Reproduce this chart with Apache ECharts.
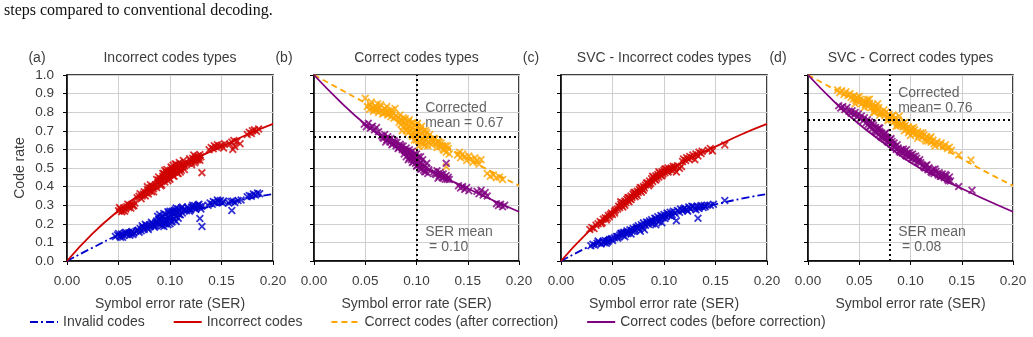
<!DOCTYPE html>
<html>
<head>
<meta charset="utf-8">
<title></title>
<script src="https://cdn.jsdelivr.net/npm/echarts@6/dist/echarts.min.js"></script>
<style>
    body{ margin:0; background:#fff; }
    #chart{ width:1033px; height:337px; }
</style>
</head>
<body>
<div id="chart"></div>
<script>
// fitted curves, sampled along SER
var fitSer = [0, 0.025, 0.05, 0.075, 0.1, 0.125, 0.15, 0.175, 0.2];
var fitIncorrect = [0, 0.148, 0.27, 0.375, 0.47, 0.55, 0.615, 0.68, 0.737];
var fitInvalid = [0, 0.072, 0.14, 0.195, 0.24, 0.275, 0.305, 0.335, 0.36];
var fitAfter = [1, 0.925, 0.85, 0.775, 0.70, 0.625, 0.55, 0.475, 0.405];
var fitBefore = [1, 0.86, 0.735, 0.63, 0.53, 0.455, 0.39, 0.325, 0.265];

// mean markers
var meanB = {ser: 0.102, rate: 0.672, serText: '0.10', rateText: '0.67'};
var meanD = {ser: 0.082, rate: 0.757, serText: '0.08', rateText: '0.76'};

// (a) incorrect codes types
var aRedPts = [[0.050,0.270],[0.052,0.278],[0.054,0.272],[0.055,0.285],[0.057,0.280],[0.058,0.292],[0.060,0.288],[0.061,0.300],[0.063,0.305],[0.064,0.296],[0.066,0.312],[0.053,0.265],
[0.051,0.288],[0.056,0.268],[0.059,0.305],[0.062,0.285],[0.065,0.298],
[0.068,0.340],[0.070,0.348],[0.072,0.335],[0.074,0.360],[0.075,0.372],[0.077,0.365],[0.078,0.385],[0.080,0.378],[0.081,0.392],[0.083,0.400],[0.084,0.388],[0.086,0.410],[0.079,0.360],[0.082,0.372],[0.087,0.395],
[0.071,0.362],[0.073,0.350],[0.076,0.350],[0.078,0.400],[0.081,0.410],[0.084,0.372],
[0.088,0.420],[0.089,0.435],[0.090,0.415],[0.091,0.442],[0.092,0.428],[0.093,0.455],[0.094,0.440],[0.095,0.462],[0.096,0.448],[0.097,0.470],[0.098,0.455],[0.099,0.478],[0.100,0.462],[0.101,0.485],[0.102,0.470],[0.103,0.492],[0.104,0.478],[0.105,0.500],[0.106,0.486],[0.107,0.505],[0.108,0.492],[0.109,0.512],[0.110,0.498],[0.111,0.518],[0.112,0.505],[0.113,0.522],[0.114,0.510],[0.115,0.528],[0.096,0.480],[0.100,0.440],[0.104,0.455],[0.108,0.470],[0.092,0.408],[0.098,0.432],[0.106,0.520],[0.110,0.478],[0.094,0.470],[0.102,0.500],
[0.089,0.452],[0.091,0.405],[0.093,0.470],[0.095,0.425],[0.097,0.492],[0.099,0.445],[0.101,0.505],[0.103,0.458],[0.105,0.522],[0.107,0.472],[0.109,0.530],[0.111,0.488],[0.113,0.540],[0.114,0.492],[0.087,0.438],[0.085,0.400],[0.095,0.488],[0.103,0.515],
[0.118,0.525],[0.120,0.540],[0.121,0.530],[0.122,0.552],[0.124,0.545],[0.125,0.560],[0.126,0.548],[0.127,0.565],[0.128,0.555],[0.129,0.542],[0.130,0.560],[0.123,0.570],
[0.119,0.550],[0.121,0.518],[0.125,0.538],[0.127,0.545],[0.129,0.572],[0.124,0.528],
[0.131,0.475],
[0.138,0.598],[0.140,0.610],[0.142,0.603],[0.143,0.620],[0.145,0.612],[0.146,0.625],[0.148,0.615],[0.150,0.622],[0.152,0.608],[0.153,0.630],
[0.158,0.628],[0.160,0.640],[0.161,0.600],[0.162,0.648],[0.165,0.642],[0.168,0.630],[0.163,0.615],
[0.175,0.680],[0.177,0.692],[0.179,0.685],[0.180,0.700],[0.182,0.705],[0.184,0.698],[0.186,0.710]];

var aBluePts = [[0.047,0.132],[0.049,0.140],[0.051,0.135],[0.053,0.145],[0.055,0.138],[0.056,0.150],[0.058,0.142],[0.060,0.152],[0.062,0.146],[0.063,0.158],[0.065,0.150],[0.067,0.160],[0.054,0.128],
[0.050,0.148],[0.052,0.128],[0.057,0.155],[0.061,0.138],[0.064,0.142],
[0.069,0.165],[0.071,0.175],[0.072,0.162],[0.074,0.182],[0.075,0.170],[0.077,0.190],[0.078,0.178],[0.080,0.195],[0.081,0.185],[0.083,0.200],[0.084,0.188],[0.086,0.205],[0.076,0.198],
[0.070,0.155],[0.073,0.190],[0.079,0.170],[0.082,0.208],[0.085,0.182],
[0.086,0.190],[0.087,0.215],[0.088,0.200],[0.089,0.225],[0.090,0.195],[0.091,0.232],[0.092,0.210],[0.093,0.240],[0.094,0.205],[0.095,0.225],[0.096,0.250],[0.097,0.215],[0.098,0.238],[0.099,0.260],[0.100,0.220],[0.101,0.245],[0.102,0.268],[0.103,0.230],[0.104,0.255],[0.105,0.275],[0.106,0.240],[0.107,0.262],[0.108,0.280],[0.109,0.250],[0.110,0.270],[0.111,0.285],[0.112,0.258],[0.113,0.275],[0.094,0.185],[0.098,0.195],[0.100,0.200],[0.106,0.212],
[0.088,0.240],[0.090,0.250],[0.092,0.190],[0.094,0.255],[0.096,0.200],[0.098,0.265],[0.100,0.235],[0.102,0.210],[0.104,0.270],[0.106,0.285],[0.108,0.230],[0.110,0.248],[0.112,0.290],[0.090,0.218],[0.095,0.210],[0.100,0.268],[0.104,0.222],
[0.116,0.270],[0.118,0.282],[0.120,0.275],[0.121,0.290],[0.123,0.285],[0.124,0.298],[0.126,0.288],[0.127,0.300],[0.129,0.292],[0.130,0.280],[0.131,0.295],
[0.117,0.290],[0.119,0.268],[0.122,0.300],[0.125,0.278],[0.128,0.305],
[0.129,0.228],[0.131,0.185],
[0.137,0.300],[0.139,0.312],[0.141,0.305],[0.142,0.320],[0.144,0.315],[0.146,0.328],[0.147,0.318],[0.149,0.325],[0.151,0.312],[0.152,0.322],
[0.157,0.312],[0.159,0.320],[0.160,0.272],[0.161,0.322],[0.163,0.315],[0.166,0.325],[0.169,0.328],
[0.175,0.345],[0.177,0.352],[0.179,0.348],[0.181,0.360],[0.183,0.355],[0.185,0.365],[0.187,0.362]];

// (b) correct codes types
var bOrangePts = [[0.050,0.875],
[0.052,0.830],[0.054,0.815],[0.055,0.840],[0.057,0.822],[0.058,0.805],[0.060,0.830],[0.061,0.812],[0.063,0.798],[0.064,0.825],[0.066,0.808],[0.067,0.790],[0.069,0.818],[0.070,0.800],[0.072,0.785],[0.073,0.805],[0.075,0.775],[0.077,0.795],[0.079,0.820],[0.080,0.782],[0.062,0.845],
[0.056,0.855],[0.059,0.815],[0.065,0.840],[0.068,0.795],[0.071,0.830],[0.074,0.792],[0.076,0.812],[0.078,0.768],
[0.082,0.770],[0.083,0.745],[0.084,0.760],[0.085,0.735],[0.086,0.755],[0.087,0.720],[0.088,0.745],[0.089,0.765],[0.090,0.730],[0.091,0.710],[0.092,0.750],[0.093,0.725],[0.094,0.700],[0.095,0.740],[0.096,0.715],[0.097,0.690],[0.098,0.728],[0.099,0.705],[0.100,0.680],[0.101,0.720],[0.102,0.695],[0.103,0.670],[0.104,0.710],[0.105,0.685],[0.106,0.660],[0.107,0.700],[0.108,0.672],[0.109,0.650],[0.110,0.690],[0.111,0.665],[0.112,0.640],[0.096,0.670],[0.100,0.650],[0.104,0.640],[0.108,0.620],[0.092,0.690],[0.086,0.700],[0.102,0.615],
[0.084,0.785],[0.087,0.770],[0.090,0.700],[0.093,0.760],[0.095,0.680],[0.097,0.745],[0.099,0.668],[0.101,0.740],[0.103,0.640],[0.105,0.725],[0.107,0.630],[0.109,0.700],[0.111,0.620],[0.113,0.680],[0.098,0.650],[0.105,0.655],
[0.114,0.655],[0.116,0.640],[0.117,0.660],[0.119,0.630],[0.121,0.645],[0.123,0.615],[0.124,0.635],[0.126,0.600],[0.128,0.620],[0.129,0.585],[0.131,0.605],[0.132,0.575],
[0.115,0.625],[0.118,0.655],[0.120,0.610],[0.122,0.640],[0.125,0.620],[0.127,0.595],[0.130,0.620],
[0.129,0.507],
[0.140,0.570],[0.142,0.585],[0.143,0.555],[0.145,0.575],[0.147,0.560],[0.149,0.540],[0.151,0.565],[0.153,0.548],[0.155,0.530],[0.157,0.555],[0.159,0.540],[0.161,0.520],[0.163,0.545],
[0.169,0.470],[0.172,0.455],[0.175,0.462],[0.178,0.448],[0.181,0.452],[0.184,0.438]];

var bPurplePts = [[0.049,0.735],[0.051,0.722],[0.053,0.740],[0.055,0.715],[0.057,0.725],[0.059,0.705],[0.061,0.718],[0.063,0.695],
[0.066,0.675],[0.068,0.660],[0.069,0.680],[0.071,0.650],[0.072,0.668],[0.074,0.640],[0.075,0.658],[0.077,0.630],[0.078,0.648],[0.080,0.620],[0.081,0.638],[0.083,0.610],[0.084,0.628],[0.086,0.600],[0.087,0.618],[0.089,0.590],[0.090,0.608],[0.092,0.580],[0.093,0.598],
[0.067,0.665],[0.070,0.640],[0.073,0.655],[0.076,0.625],[0.079,0.640],[0.082,0.605],[0.085,0.620],[0.088,0.595],
[0.088,0.575],[0.090,0.560],[0.091,0.585],[0.093,0.555],[0.094,0.570],[0.095,0.545],[0.096,0.565],[0.097,0.535],[0.098,0.555],[0.099,0.525],[0.100,0.548],[0.101,0.515],[0.102,0.540],[0.103,0.505],[0.104,0.530],[0.105,0.495],[0.106,0.520],[0.107,0.488],[0.108,0.510],[0.109,0.480],[0.110,0.500],[0.112,0.490],[0.100,0.575],[0.104,0.560],[0.096,0.590],
[0.090,0.590],[0.092,0.545],[0.094,0.585],[0.096,0.530],[0.098,0.575],[0.100,0.510],[0.102,0.560],[0.104,0.495],[0.106,0.545],[0.108,0.480],[0.110,0.525],[0.111,0.470],[0.095,0.560],[0.103,0.520],
[0.129,0.525],
[0.117,0.480],[0.119,0.465],[0.120,0.485],[0.122,0.455],[0.123,0.475],[0.125,0.448],[0.126,0.468],[0.128,0.440],[0.129,0.460],[0.131,0.450],[0.132,0.438],
[0.118,0.470],[0.121,0.445],[0.124,0.465],[0.127,0.450],[0.130,0.440],
[0.141,0.405],[0.143,0.392],[0.145,0.400],[0.147,0.385],[0.149,0.395],[0.151,0.378],
[0.159,0.375],[0.161,0.362],[0.163,0.380],[0.165,0.355],[0.167,0.368],[0.169,0.350],
[0.178,0.308],[0.180,0.298],[0.182,0.305],[0.184,0.292],[0.186,0.300]];

// (c) SVC - incorrect codes types
var cRedPts = [[0.028,0.170],[0.030,0.180],[0.032,0.175],[0.034,0.192],
[0.036,0.200],[0.038,0.212],[0.040,0.205],[0.041,0.225],[0.043,0.232],[0.044,0.220],[0.046,0.245],[0.047,0.238],[0.049,0.258],[0.050,0.250],[0.052,0.268],[0.053,0.275],
[0.045,0.230],[0.048,0.250],[0.052,0.258],[0.039,0.200],
[0.055,0.280],[0.056,0.295],[0.057,0.288],[0.058,0.305],[0.059,0.298],[0.060,0.315],[0.061,0.308],[0.062,0.322],[0.063,0.315],[0.064,0.332],[0.065,0.325],[0.066,0.342],[0.067,0.335],[0.068,0.350],[0.069,0.342],[0.070,0.360],[0.071,0.352],[0.072,0.368],[0.073,0.360],[0.074,0.375],[0.075,0.368],[0.076,0.385],[0.077,0.378],[0.078,0.392],[0.079,0.385],[0.080,0.400],[0.081,0.392],[0.082,0.408],[0.060,0.290],[0.066,0.318],[0.072,0.345],[0.078,0.370],
[0.058,0.318],[0.062,0.300],[0.065,0.340],[0.068,0.330],[0.071,0.368],[0.074,0.352],[0.077,0.395],[0.080,0.380],[0.083,0.420],[0.086,0.412],[0.089,0.455],[0.092,0.435],[0.095,0.480],[0.098,0.458],[0.101,0.495],[0.104,0.478],
[0.084,0.420],[0.085,0.405],[0.086,0.430],[0.087,0.418],[0.088,0.442],[0.089,0.428],[0.090,0.450],[0.091,0.438],[0.092,0.458],[0.093,0.445],[0.094,0.465],[0.095,0.452],[0.096,0.472],[0.097,0.460],[0.098,0.480],[0.099,0.468],[0.100,0.488],[0.101,0.475],[0.102,0.495],[0.103,0.482],[0.104,0.500],[0.105,0.490],
[0.107,0.500],[0.108,0.485],[0.109,0.510],[0.110,0.495],[0.111,0.505],[0.112,0.478],[0.113,0.512],[0.115,0.498],[0.117,0.508],
[0.118,0.535],[0.119,0.548],[0.121,0.540],[0.122,0.555],[0.124,0.548],[0.125,0.562],[0.127,0.555],[0.128,0.570],[0.130,0.545],[0.131,0.575],[0.133,0.565],[0.134,0.585],[0.136,0.578],[0.137,0.590],
[0.143,0.595],[0.145,0.605],[0.147,0.592],
[0.159,0.624]];

var cBluePts = [[0.029,0.082],[0.031,0.090],[0.033,0.085],[0.035,0.095],[0.037,0.100],[0.039,0.092],[0.041,0.105],[0.043,0.110],[0.045,0.102],[0.047,0.115],[0.049,0.120],[0.050,0.110],[0.036,0.108],[0.044,0.095],
[0.042,0.098],[0.046,0.108],
[0.052,0.125],[0.054,0.132],[0.055,0.122],[0.057,0.140],[0.058,0.148],[0.060,0.138],[0.061,0.155],[0.063,0.148],[0.064,0.162],[0.066,0.155],[0.067,0.168],[0.069,0.160],[0.070,0.175],[0.072,0.168],[0.062,0.130],[0.068,0.145],
[0.056,0.130],[0.059,0.150],[0.065,0.148],[0.071,0.160],[0.073,0.182],
[0.074,0.178],[0.075,0.190],[0.076,0.172],[0.078,0.195],[0.079,0.182],[0.080,0.205],[0.082,0.192],[0.083,0.210],[0.085,0.198],[0.086,0.215],[0.077,0.160],[0.081,0.168],
[0.087,0.205],[0.088,0.222],[0.090,0.212],[0.091,0.230],[0.093,0.218],[0.094,0.238],[0.096,0.225],[0.097,0.245],[0.099,0.232],[0.100,0.250],[0.102,0.238],[0.103,0.258],[0.105,0.245],[0.106,0.262],[0.108,0.250],[0.109,0.268],[0.111,0.255],[0.092,0.195],[0.098,0.205],
[0.084,0.205],[0.089,0.200],[0.092,0.228],[0.095,0.212],[0.098,0.240],[0.101,0.228],[0.104,0.250],[0.107,0.240],
[0.112,0.217],
[0.113,0.272],[0.115,0.262],[0.116,0.280],[0.118,0.270],[0.120,0.285],[0.122,0.275],[0.124,0.290],[0.126,0.280],[0.128,0.292],[0.130,0.285],[0.132,0.295],[0.134,0.282],[0.136,0.298],[0.138,0.288],[0.140,0.292],[0.142,0.300],
[0.119,0.280],[0.123,0.268],[0.127,0.295],[0.131,0.275],[0.135,0.292],[0.139,0.298],
[0.133,0.230],
[0.145,0.300],[0.148,0.305],
[0.159,0.325]];

// (d) SVC - correct codes types
var dOrangePts = [[0.029,0.920],[0.031,0.905],[0.033,0.915],[0.035,0.895],[0.037,0.910],[0.039,0.890],[0.041,0.900],
[0.042,0.880],[0.044,0.870],[0.045,0.888],[0.047,0.862],[0.048,0.878],[0.050,0.855],[0.051,0.870],[0.053,0.848],[0.054,0.862],[0.056,0.840],[0.057,0.855],[0.059,0.832],[0.060,0.848],[0.062,0.825],[0.063,0.840],[0.065,0.818],[0.066,0.832],[0.068,0.810],[0.069,0.825],[0.071,0.800],[0.058,0.868],[0.064,0.800],[0.070,0.785],
[0.046,0.845],[0.050,0.885],[0.055,0.825],[0.060,0.870],[0.065,0.800],[0.068,0.845],[0.074,0.812],[0.078,0.755],
[0.073,0.795],[0.075,0.782],[0.076,0.800],[0.078,0.770],[0.079,0.788],[0.081,0.760],[0.082,0.778],[0.084,0.748],[0.085,0.768],[0.087,0.740],[0.088,0.758],[0.090,0.730],[0.089,0.780],[0.086,0.725],
[0.083,0.785],[0.088,0.728],[0.094,0.745],[0.098,0.690],[0.103,0.718],[0.107,0.660],[0.112,0.690],[0.115,0.645],[0.120,0.668],[0.124,0.618],
[0.092,0.738],[0.093,0.720],[0.095,0.730],[0.096,0.708],[0.098,0.722],[0.099,0.698],[0.101,0.712],[0.102,0.690],[0.104,0.705],[0.105,0.682],[0.107,0.695],[0.108,0.672],[0.110,0.688],[0.111,0.665],[0.113,0.678],[0.114,0.655],[0.116,0.668],[0.117,0.645],[0.119,0.660],[0.120,0.638],[0.122,0.650],[0.123,0.630],[0.094,0.700],[0.100,0.675],
[0.126,0.640],[0.128,0.625],[0.130,0.635],[0.132,0.615],[0.134,0.625],[0.136,0.605],[0.138,0.612],[0.140,0.595],
[0.147,0.570],
[0.159,0.543]];

var dPurplePts = [[0.030,0.835],[0.032,0.822],[0.034,0.830],[0.036,0.815],[0.038,0.825],
[0.040,0.805],[0.042,0.795],[0.043,0.808],[0.045,0.785],[0.046,0.798],[0.048,0.775],[0.049,0.790],[0.051,0.765],[0.052,0.780],[0.054,0.755],[0.055,0.770],[0.057,0.745],[0.058,0.760],
[0.059,0.735],[0.060,0.748],[0.061,0.725],[0.062,0.738],[0.063,0.712],[0.064,0.728],[0.065,0.700],[0.066,0.718],[0.067,0.690],[0.068,0.708],[0.069,0.680],[0.070,0.698],[0.071,0.670],[0.072,0.688],[0.073,0.662],[0.074,0.678],[0.075,0.655],[0.076,0.668],[0.077,0.645],[0.078,0.660],[0.079,0.638],[0.080,0.652],[0.081,0.628],[0.082,0.642],[0.083,0.620],[0.084,0.635],[0.070,0.715],[0.076,0.690],
[0.060,0.720],[0.063,0.740],[0.066,0.695],[0.069,0.715],[0.072,0.665],[0.075,0.685],[0.078,0.640],[0.081,0.658],[0.084,0.612],[0.087,0.625],
[0.085,0.615],[0.086,0.600],[0.088,0.608],[0.089,0.590],[0.091,0.598],[0.092,0.580],[0.094,0.590],[0.095,0.570],[0.097,0.580],[0.098,0.560],[0.100,0.570],[0.101,0.550],[0.103,0.562],[0.104,0.542],[0.106,0.552],[0.107,0.535],[0.109,0.545],[0.110,0.528],[0.096,0.598],[0.102,0.575],
[0.090,0.585],[0.093,0.602],[0.096,0.565],[0.099,0.582],[0.102,0.548],[0.105,0.565],[0.108,0.530],
[0.112,0.515],[0.114,0.500],[0.115,0.512],[0.117,0.490],[0.118,0.502],[0.120,0.480],[0.122,0.492],[0.123,0.470],[0.125,0.482],[0.127,0.462],[0.128,0.475],[0.130,0.455],[0.131,0.468],[0.133,0.448],[0.135,0.460],[0.136,0.440],[0.138,0.452],[0.139,0.430],
[0.113,0.505],[0.116,0.518],[0.121,0.475],[0.124,0.495],[0.129,0.455],[0.134,0.465],[0.137,0.432],
[0.147,0.400],
[0.160,0.380]];

var panelTitles = ['Incorrect codes types', 'Correct codes types', 'SVC - Incorrect codes types', 'SVC - Correct codes types'];
var panelTags = ['(a)', '(b)', '(c)', '(d)'];
var legendNames = ['Invalid codes', 'Incorrect codes', 'Correct codes (after correction)', 'Correct codes (before correction)'];

var RED = '#d00000', BLUE = '#0000cc', ORANGE = '#ffa500', PURPLE = '#800080';
var TXT = '#3c3c3c';
var FONT = '"Liberation Sans", Arial, sans-serif';
var CROSS = 'path://M0,1.6L1.6,0L5,3.4L8.4,0L10,1.6L6.6,5L10,8.4L8.4,10L5,6.6L1.6,10L0,8.4L3.4,5Z';

var gridPos = [
    {left: 67, width: 206},
    {left: 314, width: 205},
    {left: 561, width: 206},
    {left: 808, width: 205}
];

function fitData(vals) {
    return fitSer.map(function (s, i) { return [s, vals[i]]; });
}

var grids = [], xAxes = [], yAxes = [], titles = [], series = [];

gridPos.forEach(function (g, i) {
    grids.push({left: g.left, width: g.width, top: 75, height: 186, show: true,
        borderColor: '#000', borderWidth: 1.5});
    xAxes.push({
        gridIndex: i, type: 'value', min: 0, max: 0.2, interval: 0.05,
        name: 'Symbol error rate (SER)', nameLocation: 'middle', nameGap: 36,
        nameTextStyle: {color: TXT, fontSize: 14, fontFamily: FONT},
        axisLine: {onZero: false, lineStyle: {color: '#000', width: 1.5}},
        axisTick: {length: 4, lineStyle: {color: '#000'}},
        axisLabel: {color: TXT, fontSize: 13.5, fontFamily: FONT, margin: 13,
            formatter: function (v) { return v.toFixed(2); }},
        splitLine: {lineStyle: {color: '#cfcfcf', width: 1}}
    });
    yAxes.push({
        gridIndex: i, type: 'value', min: 0, max: 1, interval: 0.1,
        name: i === 0 ? 'Code rate' : '', nameLocation: 'middle', nameGap: 40,
        nameTextStyle: {color: TXT, fontSize: 14, fontFamily: FONT},
        axisLine: {onZero: false, lineStyle: {color: '#000', width: 1.5}},
        axisTick: {length: 4, lineStyle: {color: '#000'}},
        axisLabel: {show: i === 0, color: TXT, fontSize: 13.5, fontFamily: FONT, margin: 13,
            formatter: function (v) { return v.toFixed(1); }},
        splitLine: {lineStyle: {color: '#cfcfcf', width: 1}}
    });
    titles.push({text: panelTitles[i], left: g.left + g.width / 2, textAlign: 'center', top: 51, padding: 0,
        textStyle: {color: TXT, fontSize: 14, fontWeight: 'normal', fontFamily: FONT}});
    titles.push({text: panelTags[i], left: g.left - 30, textAlign: 'center', top: 51, padding: 0,
        textStyle: {color: TXT, fontSize: 14, fontWeight: 'normal', fontFamily: FONT}});
});

function pts(name, idx, data, color) {
    return {name: name, type: 'scatter', xAxisIndex: idx, yAxisIndex: idx, data: data,
        symbol: CROSS, symbolSize: 8, itemStyle: {color: color}, silent: true, z: 2};
}
function fit(name, idx, vals, color, dash, width) {
    return {name: name, type: 'line', xAxisIndex: idx, yAxisIndex: idx, data: fitData(vals),
        smooth: true, symbol: 'none', lineStyle: {color: color, width: width || 1.8, type: dash},
        itemStyle: {color: color}, silent: true, z: 3};
}
function meanLines(mean) {
    return {silent: true, symbol: 'none', label: {show: false},
        lineStyle: {color: '#000', type: [2, 3], width: 2},
        data: [{xAxis: mean.ser}, {yAxis: mean.rate}]};
}
function note(idx, x, y, text) {
    return {type: 'scatter', xAxisIndex: idx, yAxisIndex: idx, data: [[x, y]], symbolSize: 1,
        itemStyle: {color: 'rgba(0,0,0,0)'}, silent: true, z: 5,
        label: {show: true, position: 'right', distance: 0, formatter: text, color: TXT,
            fontSize: 14, lineHeight: 15, fontFamily: FONT, align: 'left'}};
}

// (a)
series.push(pts('a-red', 0, aRedPts, RED));
series.push(pts('a-blue', 0, aBluePts, BLUE));
series.push(fit('Invalid codes', 0, fitInvalid, BLUE, [8, 3, 2, 3]));
series.push(fit('Incorrect codes', 0, fitIncorrect, RED, 'solid'));
// (b)
series.push(pts('b-orange', 1, bOrangePts, ORANGE));
series.push(pts('b-purple', 1, bPurplePts, PURPLE));
var bAfter = fit('Correct codes (after correction)', 1, fitAfter, ORANGE, [6, 4]);
bAfter.markLine = meanLines(meanB);
series.push(bAfter);
series.push(fit('Correct codes (before correction)', 1, fitBefore, PURPLE, 'solid'));
series.push(note(1, 0.108, 0.78, 'Corrected\nmean = ' + meanB.rateText));
series.push(note(1, 0.108, 0.113, 'SER mean\n = ' + meanB.serText));
// (c)
series.push(pts('c-red', 2, cRedPts, RED));
series.push(pts('c-blue', 2, cBluePts, BLUE));
series.push(fit('Invalid codes', 2, fitInvalid, BLUE, [8, 3, 2, 3]));
series.push(fit('Incorrect codes', 2, fitIncorrect, RED, 'solid'));
// (d)
series.push(pts('d-orange', 3, dOrangePts, ORANGE));
series.push(pts('d-purple', 3, dPurplePts, PURPLE));
var dAfter = fit('Correct codes (after correction)', 3, fitAfter, ORANGE, [6, 4]);
dAfter.markLine = meanLines(meanD);
series.push(dAfter);
series.push(fit('Correct codes (before correction)', 3, fitBefore, PURPLE, 'solid'));
series.push(note(3, 0.0875, 0.861, 'Corrected\nmean= ' + meanD.rateText));
series.push(note(3, 0.0875, 0.113, 'SER mean\n = ' + meanD.serText));

var option = {
    animation: false,
    backgroundColor: '#fff',
    title: titles,
    grid: grids,
    xAxis: xAxes,
    yAxis: yAxes,
    legend: {
        data: legendNames, left: 29, top: 315, padding: 0, itemWidth: 28, itemHeight: 14, itemGap: 28,
        selectedMode: false,
        itemStyle: {opacity: 0},
        textStyle: {color: TXT, fontSize: 14, fontFamily: FONT}
    },
    graphic: [{
        type: 'text', left: 4, top: 3,
        style: {text: 'steps compared to conventional decoding.', fill: '#111',
            font: '16px "Liberation Serif", "Times New Roman", serif'}
    }],
    series: series
};

var myChart = echarts.init(document.getElementById('chart'));
myChart.setOption(option);
</script>
</body>
</html>
